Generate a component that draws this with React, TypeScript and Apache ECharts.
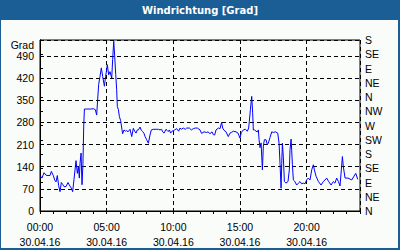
import React, { useEffect, useRef } from 'react';
import * as echarts from 'echarts';

const chartTitle = 'Windrichtung [Grad]';
const dateLabel = '30.04.16';
const leftAxisName = 'Grad';
const compassLabels = ['N', 'NE', 'E', 'SE', 'S', 'SW', 'W', 'NW', 'N', 'NE', 'E', 'SE', 'S'];

const hours = [
  0.05, 0.15, 0.3, 0.45, 0.6, 0.75, 0.85, 1.0, 1.1, 1.2, 1.3, 1.4, 1.5, 1.6, 1.7, 1.8, 1.95, 2.1, 2.2, 2.35,
  2.45, 2.55, 2.7, 2.8, 2.88, 2.95, 3.0, 3.08, 3.15, 3.22, 3.28, 3.33, 3.5, 3.8, 4.0, 4.15, 4.25, 4.4, 4.5, 4.6,
  4.7, 4.83, 4.92, 5.0, 5.05, 5.15, 5.25, 5.38, 5.45, 5.53, 5.6, 5.68, 5.75, 5.8, 5.88, 5.95, 6.05, 6.15, 6.2, 6.3,
  6.4, 6.5, 6.6, 6.75, 6.88, 7.0, 7.1, 7.2, 7.3, 7.38, 7.5, 7.6, 7.7, 7.8, 7.88, 8.0, 8.13, 8.25, 8.35, 8.5,
  8.75, 8.88, 9.0, 9.12, 9.2, 9.3, 9.45, 9.55, 9.62, 9.7, 9.8, 9.9, 10.0, 10.1, 10.25, 10.4, 10.5, 10.6, 10.75, 10.9,
  11.0, 11.2, 11.35, 11.5, 11.65, 11.8, 12.0, 12.12, 12.3, 12.5, 12.6, 12.75, 12.9, 13.0, 13.1, 13.2, 13.38, 13.5, 13.62, 13.7,
  13.8, 13.95, 14.12, 14.25, 14.35, 14.5, 14.7, 14.85, 15.0, 15.1, 15.25, 15.4, 15.55, 15.65, 15.7, 15.78, 15.88, 15.95, 16.0, 16.1,
  16.2, 16.3, 16.38, 16.43, 16.5, 16.58, 16.68, 16.75, 16.83, 16.95, 17.05, 17.12, 17.25, 17.38, 17.5, 17.65, 17.83, 17.93, 18.0, 18.08,
  18.13, 18.18, 18.25, 18.33, 18.45, 18.6, 18.7, 18.75, 18.83, 18.88, 18.93, 19.0, 19.1, 19.25, 19.38, 19.5, 19.62, 19.75, 19.88, 20.0,
  20.12, 20.25, 20.38, 20.5, 20.58, 20.7, 20.88, 21.08, 21.25, 21.38, 21.5, 21.65, 21.83, 22.0, 22.12, 22.25, 22.38, 22.5, 22.6, 22.68,
  22.75, 22.88, 23.1, 23.38, 23.55, 23.68, 23.83
];

const degrees = [
  110, 104, 121, 113, 112, 112, 125, 112, 98, 92, 112, 80, 61, 90, 84, 77, 77, 90, 82, 72,
  61, 100, 159, 119, 140, 104, 150, 183, 83, 147, 268, 322, 322, 322, 323, 320, 303, 400, 425, 452,
  425, 394, 425, 447, 462, 430, 440, 420, 478, 536, 490, 431, 383, 330, 320, 299, 285, 256, 244, 256,
  252, 254, 250, 258, 235, 261, 252, 246, 256, 256, 265, 255, 251, 245, 235, 225, 214, 240, 256, 258,
  258, 258, 256, 258, 250, 246, 258, 254, 251, 256, 246, 252, 254, 256, 260, 252, 262, 258, 262, 258,
  262, 262, 256, 260, 262, 262, 256, 245, 250, 248, 250, 244, 250, 241, 240, 256, 262, 260, 280, 262,
  255, 250, 235, 246, 248, 252, 250, 246, 230, 248, 256, 258, 252, 262, 283, 320, 362, 310, 256, 256,
  252, 250, 256, 225, 200, 215, 130, 205, 225, 225, 209, 214, 232, 250, 248, 250, 246, 214, 151, 72,
  150, 214, 170, 93, 88, 93, 130, 193, 227, 190, 146, 98, 94, 82, 88, 93, 86, 88, 86, 98,
  104, 98, 130, 146, 130, 110, 93, 82, 93, 98, 104, 93, 82, 93, 88, 104, 93, 79, 130, 172,
  140, 104, 104, 98, 110, 119, 100
];

const pad2 = (n: number) => (n < 10 ? '0' + n : '' + n);

export default function App() {
  const ref = useRef<HTMLDivElement>(null);

  useEffect(() => {
    const chart = echarts.init(ref.current!, null, { renderer: 'svg', width: 400, height: 250 });
    const labelFont = { fontFamily: 'Liberation Sans', fontSize: 10.5, color: '#000' };
    const dashed = { color: '#000', width: 1, type: [4, 3] as any };
    chart.setOption({
      animation: false,
      backgroundColor: '#fafcfa',
      graphic: [
        { type: 'rect', left: 0, top: 0, shape: { x: 0, y: 0, width: 400, height: 20 }, style: { fill: '#1b5e95' } },
        { type: 'rect', shape: { x: 0, y: 20, width: 1, height: 230 }, style: { fill: '#1b5e95' } },
        { type: 'rect', shape: { x: 398, y: 20, width: 2, height: 230 }, style: { fill: '#1b5e95' } },
        { type: 'rect', shape: { x: 0, y: 248, width: 400, height: 2 }, style: { fill: '#1b5e95' } },
        {
          type: 'text', x: 200, y: 10,
          style: {
            text: chartTitle, fill: '#fff', fontFamily: 'DejaVu Sans', fontWeight: 'bold', fontSize: 10,
            align: 'center', verticalAlign: 'middle'
          }
        }
      ],
      grid: { left: 40, right: 40, top: 40, bottom: 39, show: true, borderColor: '#000', borderWidth: 1, backgroundColor: 'transparent' },
      xAxis: [
        {
          type: 'value', min: 0, max: 24, interval: 5, position: 'bottom',
          axisLine: { show: true, lineStyle: { color: '#000', width: 1 } },
          axisTick: { show: false },
          splitLine: { show: true, lineStyle: dashed },
          axisLabel: {
            ...labelFont, margin: 8, lineHeight: 15.5, showMaxLabel: false,
            formatter: (v: number) => (v >= 24 ? '' : `${pad2(v)}:00\n${dateLabel}`)
          }
        },
        {
          type: 'value', min: 0, max: 24, interval: 1, position: 'bottom',
          axisLine: { show: false },
          axisTick: { show: true, length: 3, lineStyle: { color: '#000', width: 1 } },
          splitLine: { show: false },
          axisLabel: { show: false }
        }
      ],
      yAxis: [
        {
          type: 'value', min: 0, max: 540, interval: 70, position: 'left',
          axisLine: { show: true, lineStyle: { color: '#000', width: 1 } },
          axisTick: { show: false },
          splitLine: { show: true, lineStyle: dashed },
          axisLabel: {
            ...labelFont, margin: 6,
            formatter: (v: number) => (v >= 540 ? `{g|${leftAxisName}}` : String(v)),
            rich: { g: { ...labelFont, padding: [10, 0, 0, 0] } }
          }
        },
        {
          type: 'value', min: 0, max: 540, interval: 45, position: 'right',
          axisLine: { show: true, lineStyle: { color: '#000', width: 1 } },
          axisTick: { show: true, length: 3, lineStyle: { color: '#000', width: 1 } },
          splitLine: { show: false },
          axisLabel: {
            ...labelFont, margin: 5,
            formatter: (v: number) => compassLabels[Math.round(v / 45)] ?? ''
          }
        }
      ],
      series: [
        {
          type: 'line', xAxisIndex: 0, yAxisIndex: 0,
          data: hours.map((h, i) => [h, degrees[i]]),
          showSymbol: false, symbol: 'none',
          lineStyle: { color: '#0000ff', width: 1 },
          z: 5
        }
      ]
    });
    return () => chart.dispose();
  }, []);

  return <div ref={ref} style={{ position: 'absolute', left: 0, top: 0, width: 400, height: 250 }} />;
}
